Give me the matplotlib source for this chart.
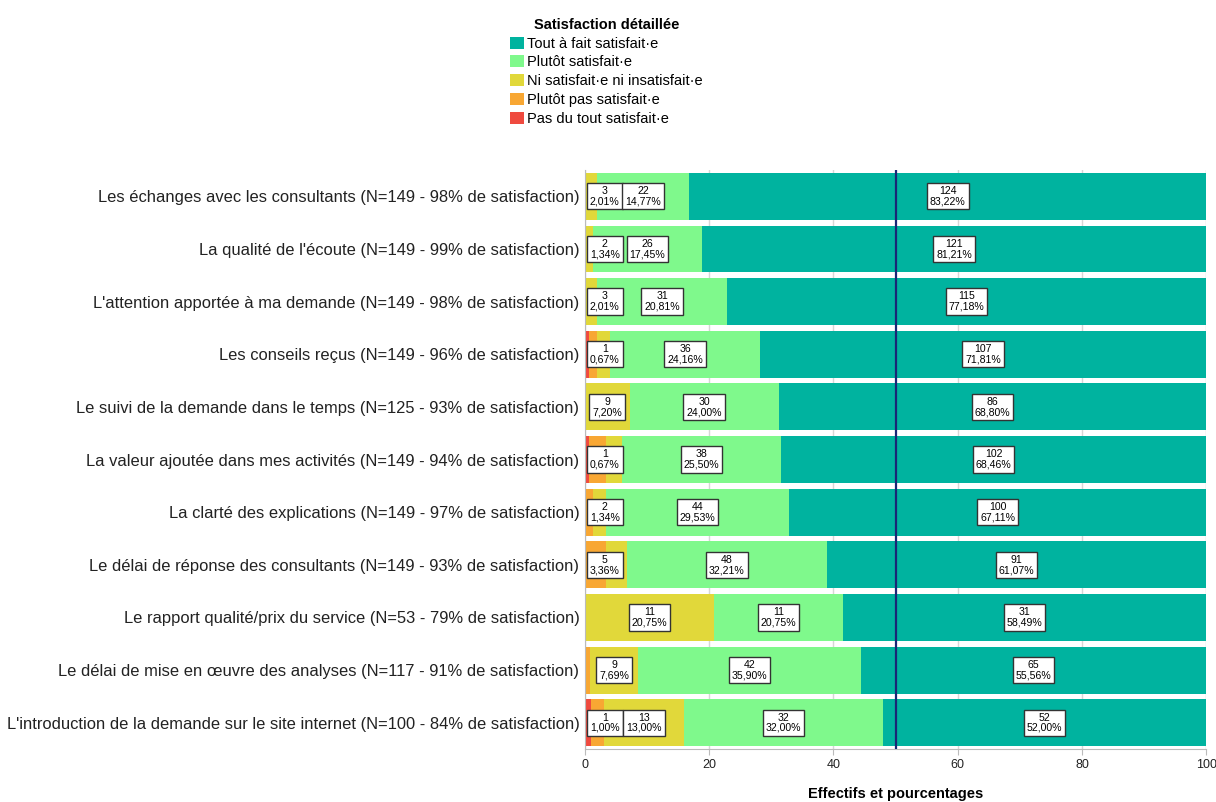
import numpy as np
import matplotlib
matplotlib.use("Agg")
import matplotlib.pyplot as plt
from matplotlib.patches import Patch

plt.rcParams['font.family'] = ['Liberation Sans', 'DejaVu Sans']

# Données (effectifs par niveau de satisfaction)
questions = [
    "Les échanges avec les consultants (N=149 - 98% de satisfaction)",
    "La qualité de l'écoute (N=149 - 99% de satisfaction)",
    "L'attention apportée à ma demande (N=149 - 98% de satisfaction)",
    "Les conseils reçus (N=149 - 96% de satisfaction)",
    "Le suivi de la demande dans le temps (N=125 - 93% de satisfaction)",
    "La valeur ajoutée dans mes activités (N=149 - 94% de satisfaction)",
    "La clarté des explications (N=149 - 97% de satisfaction)",
    "Le délai de réponse des consultants (N=149 - 93% de satisfaction)",
    "Le rapport qualité/prix du service (N=53 - 79% de satisfaction)",
    "Le délai de mise en œuvre des analyses (N=117 - 91% de satisfaction)",
    "L'introduction de la demande sur le site internet (N=100 - 84% de satisfaction)",
]
categories = ["Pas du tout satisfait·e", "Plutôt pas satisfait·e",
              "Ni satisfait·e ni insatisfait·e", "Plutôt satisfait·e",
              "Tout à fait satisfait·e"]
pas_du_tout = [0, 0, 0, 1, 0, 1, 0, 0, 0, 0, 1]
plutot_pas = [0, 0, 0, 2, 0, 4, 2, 5, 0, 1, 2]
ni_ni = [3, 2, 3, 3, 9, 4, 3, 5, 11, 9, 13]
plutot = [22, 26, 31, 36, 30, 38, 44, 48, 11, 42, 32]
tout_a_fait = [124, 121, 115, 107, 86, 102, 100, 91, 31, 65, 52]
# segments étiquetés (les autres sont masqués comme dans l'original)
etiquettes = [[2, 3, 4], [2, 3, 4], [2, 3, 4], [0, 3, 4], [2, 3, 4], [0, 3, 4],
              [1, 3, 4], [1, 3, 4], [2, 3, 4], [2, 3, 4], [0, 2, 3, 4]]

couleurs = ["#ef4a3f", "#f8a733", "#e1d83a", "#7ff98c", "#00b39f"]

effectifs = np.array([pas_du_tout, plutot_pas, ni_ni, plutot, tout_a_fait], dtype=float)
totaux = effectifs.sum(axis=0)
pourcent = effectifs / totaux * 100

fig = plt.figure(figsize=(12.16, 8.02), dpi=100)
ax = fig.add_axes([0.481, 0.066, 0.511, 0.722])

y = np.arange(len(questions))
gauche = np.zeros(len(questions))
for k in range(len(categories)):
    ax.barh(y, pourcent[k], left=gauche, height=0.89, color=couleurs[k],
            edgecolor='none', zorder=2)
    for i in range(len(questions)):
        if k in etiquettes[i]:
            centre = gauche[i] + pourcent[k, i] / 2
            xpos = max(centre, 3.2)
            txt = "%d\n%s%%" % (effectifs[k, i], ("%.2f" % pourcent[k, i]).replace('.', ','))
            ax.text(xpos, y[i], txt, ha='center', va='center', fontsize=7.6,
                    linespacing=1.05, zorder=5,
                    bbox=dict(boxstyle='square,pad=0.28', facecolor='white',
                              edgecolor='#333333', linewidth=1.0))
    gauche += pourcent[k]

ax.axvline(50, color='#1a2776', linewidth=1.6, zorder=4)

ax.set_xlim(0, 100)
ax.set_ylim(len(questions) - 0.5, -0.5)
ax.set_xticks([0, 20, 40, 60, 80, 100])
ax.set_yticks(y)
ax.set_yticklabels(questions, fontsize=11.9, color='#222222')
ax.tick_params(axis='x', labelsize=9, colors='#222222', length=4, color='#bbbbbb')
ax.tick_params(axis='y', length=0, pad=4)
ax.grid(axis='x', color='#d6d6d6', linewidth=1, zorder=0)
for s in ['top', 'right']:
    ax.spines[s].set_visible(False)
ax.spines['left'].set_color('#bbbbbb')
ax.spines['bottom'].set_color('#bbbbbb')
ax.set_xlabel("Effectifs et pourcentages", fontsize=10.5, fontweight='bold', labelpad=11)

handles = [Patch(facecolor=couleurs[k], edgecolor='none') for k in range(4, -1, -1)]
labels = [categories[k] for k in range(4, -1, -1)]
leg = fig.legend(handles, labels, loc='upper left', bbox_to_anchor=(0.415, 0.985),
                 frameon=False, fontsize=10.5, title="Satisfaction détaillée",
                 handlelength=0.9, handleheight=0.9, handletextpad=0.25,
                 labelspacing=0.32, borderaxespad=0)
leg.get_title().set_fontweight('bold')
leg.get_title().set_fontsize(10.5)

fig.savefig("out.png", dpi=100)
